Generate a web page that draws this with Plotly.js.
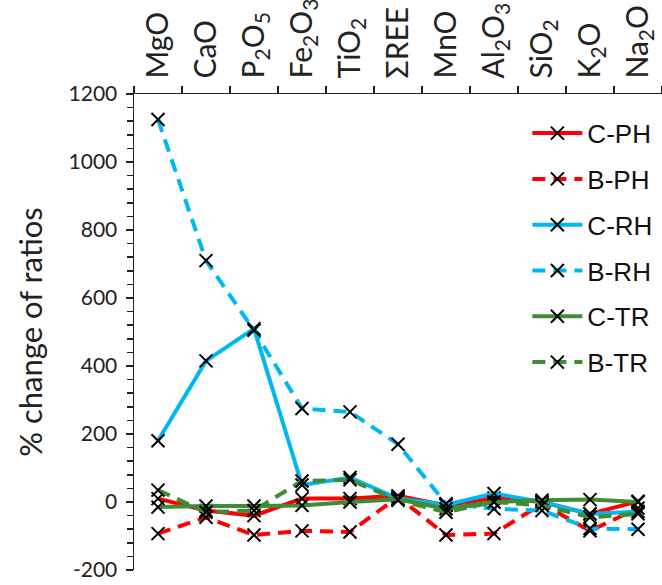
<!DOCTYPE html>
<html>
<head>
<meta charset="utf-8">
<script src="https://cdn.plot.ly/plotly-3.0.1.min.js"></script>
<style>html,body{margin:0;padding:0;background:#fff;}</style>
</head>
<body>
<div id="chart" style="width:662px;height:585px;"></div>
<script>
const categories = ["MgO","CaO","P<sub>2</sub>O<sub>5</sub>","Fe<sub>2</sub>O<sub>3</sub>","TiO<sub>2</sub>","ΣREE","MnO","Al<sub>2</sub>O<sub>3</sub>","SiO<sub>2</sub>","K<sub>2</sub>O","Na<sub>2</sub>O"];
const cPH = [10, -25, -40, 10, 10, 18, -10, 12, 0, -35, 2];
const bPH = [-93, -45, -97, -85, -88, 15, -97, -93, -5, -85, -18];
const cRH = [180, 415, 510, 50, 72, 10, -8, 25, 0, -35, -28];
const bRH = [1125, 710, 505, 275, 265, 170, -5, -20, -25, -78, -80];
const cTR = [-15, -12, -12, -10, 0, 8, -20, 0, 5, 7, 0];
const bTR = [35, -30, -25, 62, 65, 5, -30, 0, -10, -45, -35];
const yTicks = [-200, 0, 200, 400, 600, 800, 1000, 1200];

const RED = "#FF0000", CYAN = "#00B8F0", GREEN = "#3E8C35";
const DASH = "13px,8px";

function tr(name, y, color, dash, g) {
  return {
    type: "scatter", mode: "lines+markers", name: name, x: categories, y: y,
    legendgroup: g,
    line: {color: color, width: 4, dash: dash},
    marker: {symbol: "x-thin", size: 13, color: "#000", line: {color: "#000", width: 2}}
  };
}

const data = [
  tr("C-PH", cPH, RED, "solid", "a"),
  tr("B-PH", bPH, RED, DASH, "b"),
  tr("C-RH", cRH, CYAN, "solid", "c"),
  tr("B-RH", bRH, CYAN, DASH, "d"),
  tr("C-TR", cTR, GREEN, "solid", "e"),
  tr("B-TR", bTR, GREEN, DASH, "f")
];

const layout = {
  width: 662, height: 585,
  margin: {l: 134, r: 0, t: 94, b: 15},
  paper_bgcolor: "#fff", plot_bgcolor: "#fff",
  font: {family: "Lato, 'Noto Sans', sans-serif", color: "#222", size: 22},
  showlegend: true,
  legend: {
    x: 0.745, y: 0.967, xanchor: "left", yanchor: "top",
    bgcolor: "rgba(0,0,0,0)",
    font: {family: "'Liberation Sans', Arial, sans-serif", size: 26, color: "#111"},
    traceorder: "grouped", tracegroupgap: 9, itemwidth: 50
  },
  xaxis: {
    type: "category", side: "top", tickangle: -90,
    range: [-0.5, 10.5],
    showline: true, linecolor: "#222", linewidth: 1.5,
    ticks: "outside", ticklen: 7, tickcolor: "#222", tickwidth: 1.5,
    tickson: "boundaries",
    showgrid: false, zeroline: false,
    ticklabelstandoff: 8,
    ticklabeloverflow: "allow",
    tickfont: {size: 30, family: "Lato, 'Noto Sans', sans-serif"}
  },
  yaxis: {
    range: [-200, 1200], tickvals: yTicks, ticktext: yTicks.map(String),
    showline: true, linecolor: "#222", linewidth: 1.5,
    ticks: "outside", ticklen: 7, tickcolor: "#222", tickwidth: 1.5,
    minor: {dtick: 40, tick0: 0, ticks: "outside", ticklen: 6, tickcolor: "#222", tickwidth: 1.5, showgrid: false},
    showgrid: false, zeroline: false,
    ticklabelstandoff: 4,
    ticklabeloverflow: "allow",
    tickfont: {size: 21},
    title: {text: "% change of ratios", font: {size: 31}, standoff: 16}
  }
};

Plotly.newPlot("chart", data, layout, {displayModeBar: false, staticPlot: true});
</script>
</body>
</html>
